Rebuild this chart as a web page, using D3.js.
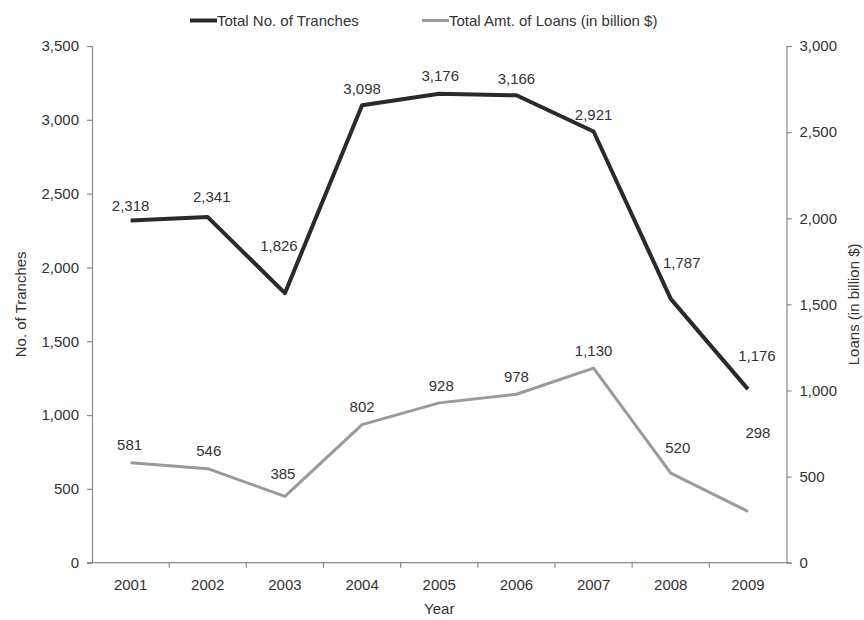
<!DOCTYPE html>
<html>
<head>
<meta charset="utf-8">
<script src="https://cdn.jsdelivr.net/npm/d3@7"></script>
<style>
  html, body { margin: 0; padding: 0; background: #ffffff; }
  svg { display: block; }
  text { font-family: "Liberation Sans", Arial, Helvetica, sans-serif; fill: #333; }
</style>
</head>
<body>
<svg id="chart" width="864" height="620"></svg>
<script>
// Yearly figures
const years = ["2001", "2002", "2003", "2004", "2005", "2006", "2007", "2008", "2009"];
const tranches = [2318, 2341, 1826, 3098, 3176, 3166, 2921, 1787, 1176];
const loans = [581, 546, 385, 802, 928, 978, 1130, 520, 298];
const leftTicks = [0, 500, 1000, 1500, 2000, 2500, 3000, 3500];
const rightTicks = [0, 500, 1000, 1500, 2000, 2500, 3000];
const seriesNames = ["Total No. of Tranches", "Total Amt. of Loans (in billion $)"];

// Where each value label sits relative to its point [dx, dy]
const trancheLabelOffset = [[0,-15],[4,-21],[-6,-48],[0,-17],[1,-18],[0,-17],[0,-17],[11,-36],[9,-34]];
const loanLabelOffset = [[-1,-18],[1,-18],[-2,-23],[0,-18],[2,-17],[0,-18],[0,-18],[7,-26],[10,-79]];

const svg = d3.select("#chart");
const plotLeft = 92, plotRight = 786.5, plotTop = 46, plotBottom = 562.7;
const axisColor = "#8a8a8a";
const darkLine = "#2a2a2a", grayLine = "#9a9a9a";
const fmt = d3.format(",");

const x = d3.scaleBand().domain(years).range([plotLeft, plotRight]).padding(0);
const yL = d3.scaleLinear().domain([0, 3500]).range([plotBottom, plotTop]);
const yR = d3.scaleLinear().domain([0, 3000]).range([plotBottom, plotTop]);
const cx = d => x(d) + x.bandwidth() / 2;

// Left axis
const gL = svg.append("g").attr("transform", `translate(${plotLeft},0)`)
  .call(d3.axisLeft(yL).tickValues(leftTicks).tickFormat(fmt).tickSize(5).tickPadding(8));
// Right axis
const gR = svg.append("g").attr("transform", `translate(${plotRight},0)`)
  .call(d3.axisRight(yR).tickValues(rightTicks).tickFormat(fmt).tickSize(5).tickPadding(8));
// Bottom axis (labels centred in each band)
const gB = svg.append("g").attr("transform", `translate(0,${plotBottom})`)
  .call(d3.axisBottom(x).tickSize(0).tickPadding(17));
// Category boundary ticks
gB.selectAll("line.bound").data(years.slice(1)).enter().append("line")
  .attr("class", "bound")
  .attr("x1", d => x(d)).attr("x2", d => x(d))
  .attr("y1", 0).attr("y2", 5);

[gL, gR, gB].forEach(g => {
  g.select(".domain").attr("stroke", axisColor).attr("stroke-width", 1.2);
  g.selectAll("line").attr("stroke", axisColor).attr("stroke-width", 1.2);
  g.selectAll("text").attr("font-size", 15).attr("fill", "#333")
    .style("font-family", "'Liberation Sans', Arial, sans-serif");
});
gB.select(".domain").attr("d", `M${plotLeft - 4},0H${plotRight + 4}`);

// Lines
const lineL = d3.line().x((d, i) => cx(years[i])).y(d => yL(d));
const lineR = d3.line().x((d, i) => cx(years[i])).y(d => yR(d));

svg.append("path").datum(loans).attr("d", lineR)
  .attr("fill", "none").attr("stroke", grayLine).attr("stroke-width", 3)
  .attr("stroke-linejoin", "round");
svg.append("path").datum(tranches).attr("d", lineL)
  .attr("fill", "none").attr("stroke", darkLine).attr("stroke-width", 4)
  .attr("stroke-linejoin", "round");

// Value labels
svg.append("g").selectAll("text").data(tranches).enter().append("text")
  .attr("x", (d, i) => cx(years[i]) + trancheLabelOffset[i][0])
  .attr("y", (d, i) => yL(d) + trancheLabelOffset[i][1])
  .attr("text-anchor", "middle").attr("dominant-baseline", "central")
  .attr("font-size", 15).text(d => fmt(d));
svg.append("g").selectAll("text").data(loans).enter().append("text")
  .attr("x", (d, i) => cx(years[i]) + loanLabelOffset[i][0])
  .attr("y", (d, i) => yR(d) + loanLabelOffset[i][1])
  .attr("text-anchor", "middle").attr("dominant-baseline", "central")
  .attr("font-size", 15).text(d => fmt(d));

// Axis titles
svg.append("text").attr("transform", `translate(20,${(plotTop + plotBottom) / 2}) rotate(-90)`)
  .attr("text-anchor", "middle").attr("dominant-baseline", "central")
  .attr("font-size", 15).text("No. of Tranches");
svg.append("text").attr("transform", `translate(853,${(plotTop + plotBottom) / 2}) rotate(-90)`)
  .attr("text-anchor", "middle").attr("dominant-baseline", "central")
  .attr("font-size", 15).text("Loans (in billion $)");
svg.append("text").attr("x", (plotLeft + plotRight) / 2).attr("y", 608)
  .attr("text-anchor", "middle").attr("dominant-baseline", "central")
  .attr("font-size", 15).text("Year");

// Legend
const legend = svg.append("g");
const legendItems = [
  { name: seriesNames[0], x: 190, color: darkLine, w: 4 },
  { name: seriesNames[1], x: 422, color: grayLine, w: 3 }
];
legendItems.forEach(it => {
  legend.append("line").attr("x1", it.x).attr("x2", it.x + 27)
    .attr("y1", 20.5).attr("y2", 20.5)
    .attr("stroke", it.color).attr("stroke-width", it.w);
  legend.append("text").attr("x", it.x + 27).attr("y", 20.5)
    .attr("dominant-baseline", "central").attr("font-size", 15).text(it.name);
});
</script>
</body>
</html>
